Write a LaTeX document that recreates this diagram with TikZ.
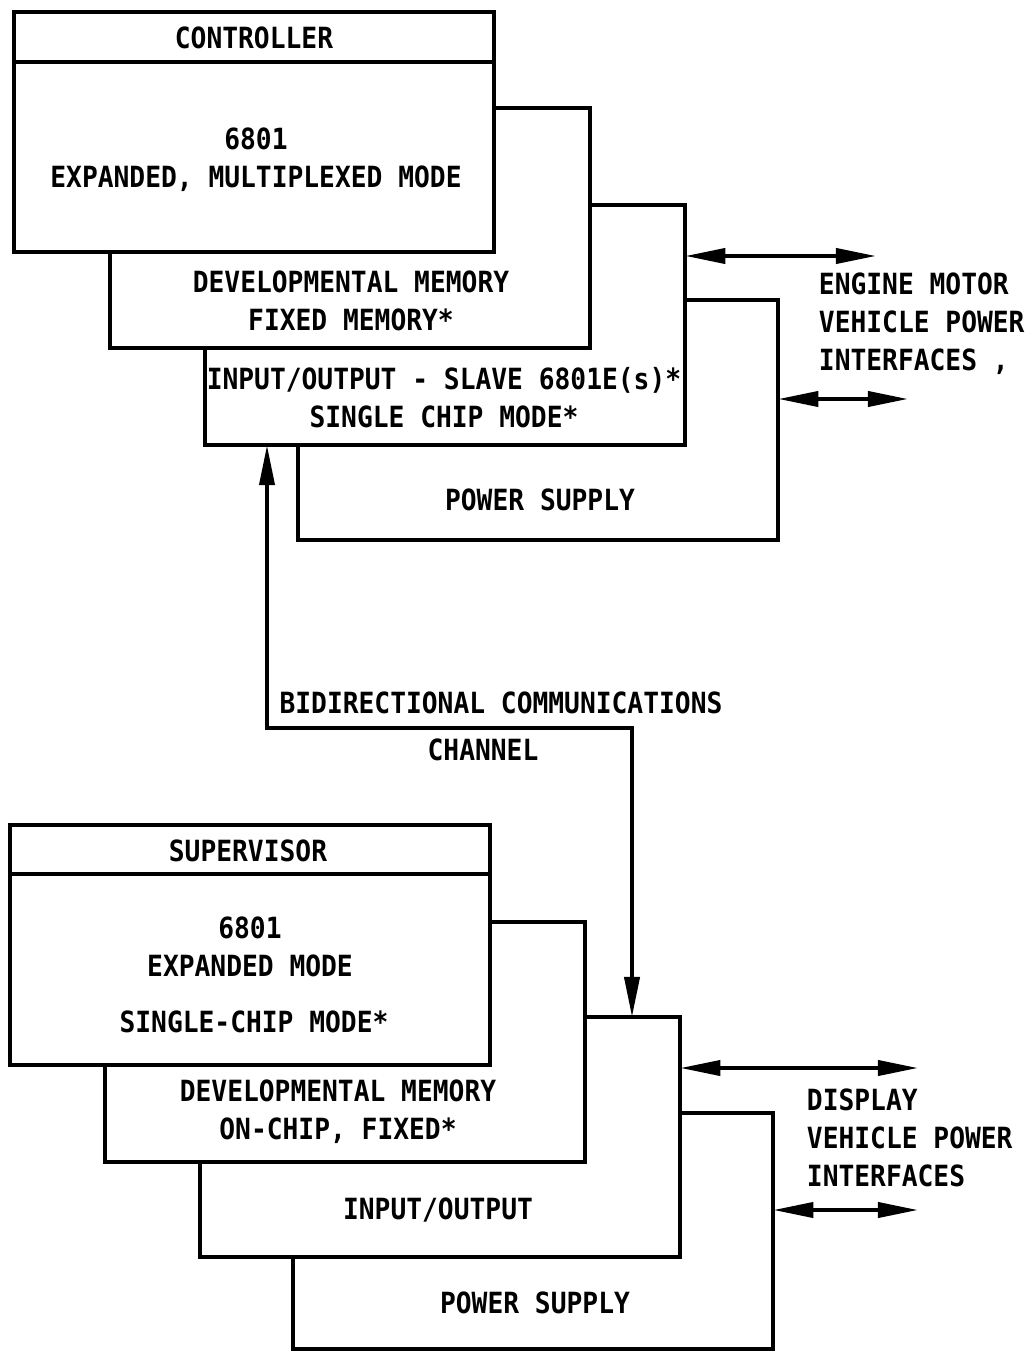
\documentclass[tikz,border=0pt]{standalone}
\usepackage{fontspec}
\setmonofont[FakeStretch=0.9]{DejaVu Sans Mono}
\usetikzlibrary{arrows.meta}

\begin{document}
\begin{tikzpicture}[
    x=0.01cm, y=-0.01cm,
    >={Triangle[length=4mm,width=1.5mm]},
    font=\ttfamily\bfseries\fontsize{8.3}{10.8}\selectfont,
    line width=1.1pt,
    box/.style={draw, fill=white, rectangle, anchor=north west,
        inner sep=0pt, outer sep=0pt, line width=1.2pt,
        minimum width=4.8cm, minimum height=2.4cm},
    txt/.style={align=center, inner sep=1pt}
]

\useasboundingbox (0,0) rectangle (1027,1352);

% controller stack
\node[box] (tpwr) at (298,300) {};
\node[box] (tio) at (205,205) {};
\node[box] (tmem) at (110,108) {};
\node[box] (ctrl) at (14,12) {};
\draw[line width=1.2pt] (ctrl.west |- 0,62) -- (ctrl.east |- 0,62);

\node[txt] (ctrltitle) at (254,38) {CONTROLLER};
\node[txt] (ctrltext) at (256,160) {6801\\EXPANDED, MULTIPLEXED MODE};
\node[txt] (tmemtext) at (351,301) {DEVELOPMENTAL MEMORY\\FIXED MEMORY*};
\node[txt] (tiotext) at (444,398) {INPUT/OUTPUT - SLAVE 6801E(s)*\\SINGLE CHIP MODE*};
\node[txt] (tpwrtext) at (540,500) {POWER SUPPLY};

\coordinate (tend1) at (876,256);
\coordinate (tend2) at (908,399);
\draw[<->] (tio.east |- tend1) -- (tend1);
\draw[<->] (tpwr.east |- tend2) -- (tend2);
\node[align=left, anchor=north west, inner sep=0pt] (tiflabel) at (817,271)
    {ENGINE MOTOR\\VEHICLE POWER\\INTERFACES ,};

% supervisor stack
\node[box, minimum height=2.36cm] (bpwr) at (293,1113) {};
\node[box] (bio) at (200,1017) {};
\node[box] (bmem) at (105,922) {};
\node[box] (sup) at (10,825) {};
\draw[line width=1.2pt] (sup.west |- 0,874) -- (sup.east |- 0,874);

\node[txt] (suptitle) at (248,851) {SUPERVISOR};
\node[txt] (suptext) at (250,947) {6801\\EXPANDED MODE};
\node[txt] (supsingle) at (254,1022) {SINGLE-CHIP MODE*};
\node[txt] (bmemtext) at (338,1112) {DEVELOPMENTAL MEMORY\\ON-CHIP, FIXED*};
\node[txt] (biotext) at (438,1210) {INPUT/OUTPUT};
\node[txt] (bpwrtext) at (535,1303) {POWER SUPPLY};

\coordinate (bend1) at (918,1068);
\coordinate (bend2) at (918,1210);
\draw[<->] (bio.east |- bend1) -- (bend1);
\draw[<->] (bpwr.east |- bend2) -- (bend2);
\node[align=left, anchor=north west, inner sep=0pt] (biflabel) at (805,1087)
    {DISPLAY\\VEHICLE POWER\\INTERFACES};

% communications channel
\coordinate (chanL) at (267,728);
\coordinate (chanR) at (632,728);
\draw[<->] (tio.south -| chanL) -- (chanL) -- (chanR) -- (chanR |- bio.north);
\node[txt] (chantext) at (501,703) {BIDIRECTIONAL COMMUNICATIONS};
\node[txt] (chantext2) at (483,750) {CHANNEL};

\end{tikzpicture}
\end{document}
